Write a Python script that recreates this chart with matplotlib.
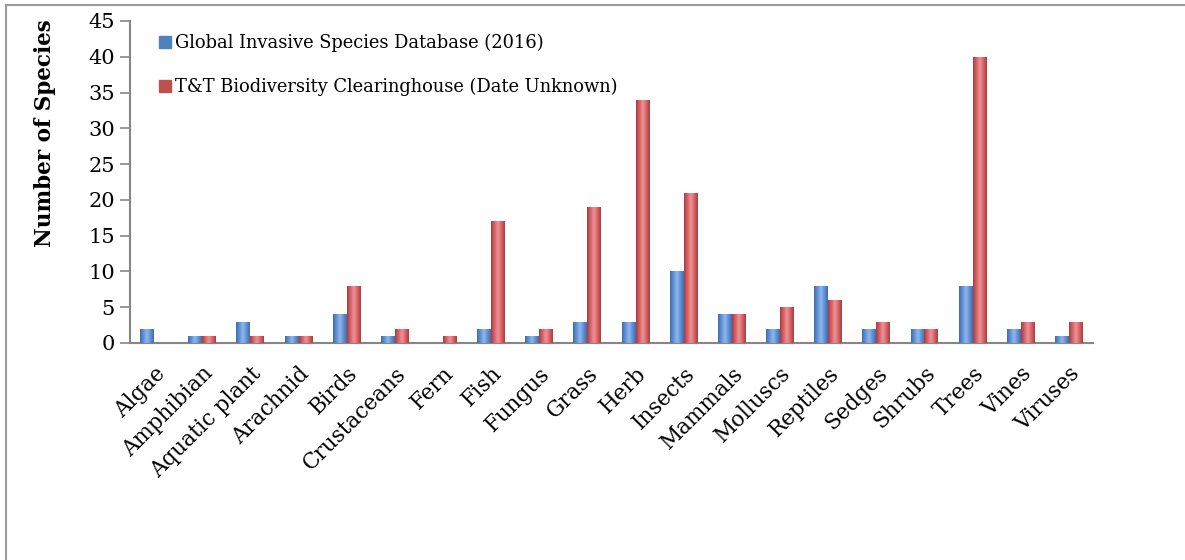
# Invasive species counts by group: GISD vs T&T Biodiversity Clearinghouse
import numpy as np
import matplotlib.pyplot as plt
from matplotlib.lines import Line2D
from matplotlib.colors import LinearSegmentedColormap

categories = ['Algae', 'Amphibian', 'Aquatic plant', 'Arachnid', 'Birds', 'Crustaceans',
              'Fern', 'Fish', 'Fungus', 'Grass', 'Herb', 'Insects', 'Mammals', 'Molluscs',
              'Reptiles', 'Sedges', 'Shrubs', 'Trees', 'Vines', 'Viruses']
gisd = [2, 1, 3, 1, 4, 1, 0, 2, 1, 3, 3, 10, 4, 2, 8, 2, 2, 8, 2, 1]
tt = [0, 1, 1, 1, 8, 2, 1, 17, 2, 19, 34, 21, 4, 5, 6, 3, 2, 40, 3, 3]
series_names = ['Global Invasive Species Database (2016)',
                'T&T Biodiversity Clearinghouse (Date Unknown)']

serif = ['DejaVu Serif']

fig = plt.figure(figsize=(11.85, 5.6), dpi=100)
ax = fig.add_axes([130 / 1185, 1 - 343 / 560, (1093 - 130) / 1185, (343 - 21) / 560])

x = np.arange(len(categories))
w = 0.29

# dark edges, light centre, like the cylinder-ish office bars
blue_cm = LinearSegmentedColormap.from_list('b', ['#3a6db5', '#8fb6ee', '#3a6db5'])
red_cm = LinearSegmentedColormap.from_list('r', ['#b03a3c', '#f49096', '#b03a3c'])
grad = np.linspace(0, 1, 64).reshape(1, -1)

for vals, off, base, cm in [(gisd, -w / 2, '#4f81bd', blue_cm), (tt, w / 2, '#c0504d', red_cm)]:
    bars = ax.bar(x + off, vals, w, color=base, edgecolor='none', zorder=2)
    for b in bars:
        if b.get_height() <= 0:
            continue
        im = ax.imshow(grad, cmap=cm, aspect='auto', zorder=3,
                       extent=[b.get_x(), b.get_x() + b.get_width(), 0, b.get_height()])
        im.set_clip_path(b)

ax.set_xlim(-0.5, len(categories) - 0.5)
ax.set_ylim(0, 45)
ax.set_yticks(range(0, 46, 5))
ax.set_xticks(x)
ax.set_xticklabels(categories, rotation=45, ha='right', rotation_mode='anchor',
                   family=serif, fontsize=15.5)
for lab in ax.get_yticklabels():
    lab.set_family(serif)
    lab.set_fontsize(15)

for s in ['top', 'right']:
    ax.spines[s].set_visible(False)
for s in ['left', 'bottom']:
    ax.spines[s].set_color('#868686')
    ax.spines[s].set_linewidth(1.5)
ax.tick_params(axis='y', length=7, width=1.2, color='#868686', pad=4)
ax.tick_params(axis='x', length=0, pad=14)

ax.set_ylabel('Number of Species', family=serif, fontsize=15.5, fontweight='bold')
ax.yaxis.set_label_coords(-0.0765, 0.652)

handles = [Line2D([], [], marker='s', ls='', markersize=8, color='#4f81bd'),
           Line2D([], [], marker='s', ls='', markersize=8, color='#c0504d')]
ax.legend(handles, series_names, loc='upper left', bbox_to_anchor=(0.01, 1.01),
          frameon=False, prop={'family': serif, 'size': 12.9}, handletextpad=0.05,
          handlelength=1.0, labelspacing=1.45)

# outer chart frame (only top and left edges show)
fig.add_artist(Line2D([6 / 1185, 1], [1 - 5 / 560, 1 - 5 / 560], color='#9a9a9a', lw=1.5))
fig.add_artist(Line2D([6 / 1185, 6 / 1185], [0, 1 - 5 / 560], color='#9a9a9a', lw=1.5))

fig.savefig('out.png', dpi=100)
